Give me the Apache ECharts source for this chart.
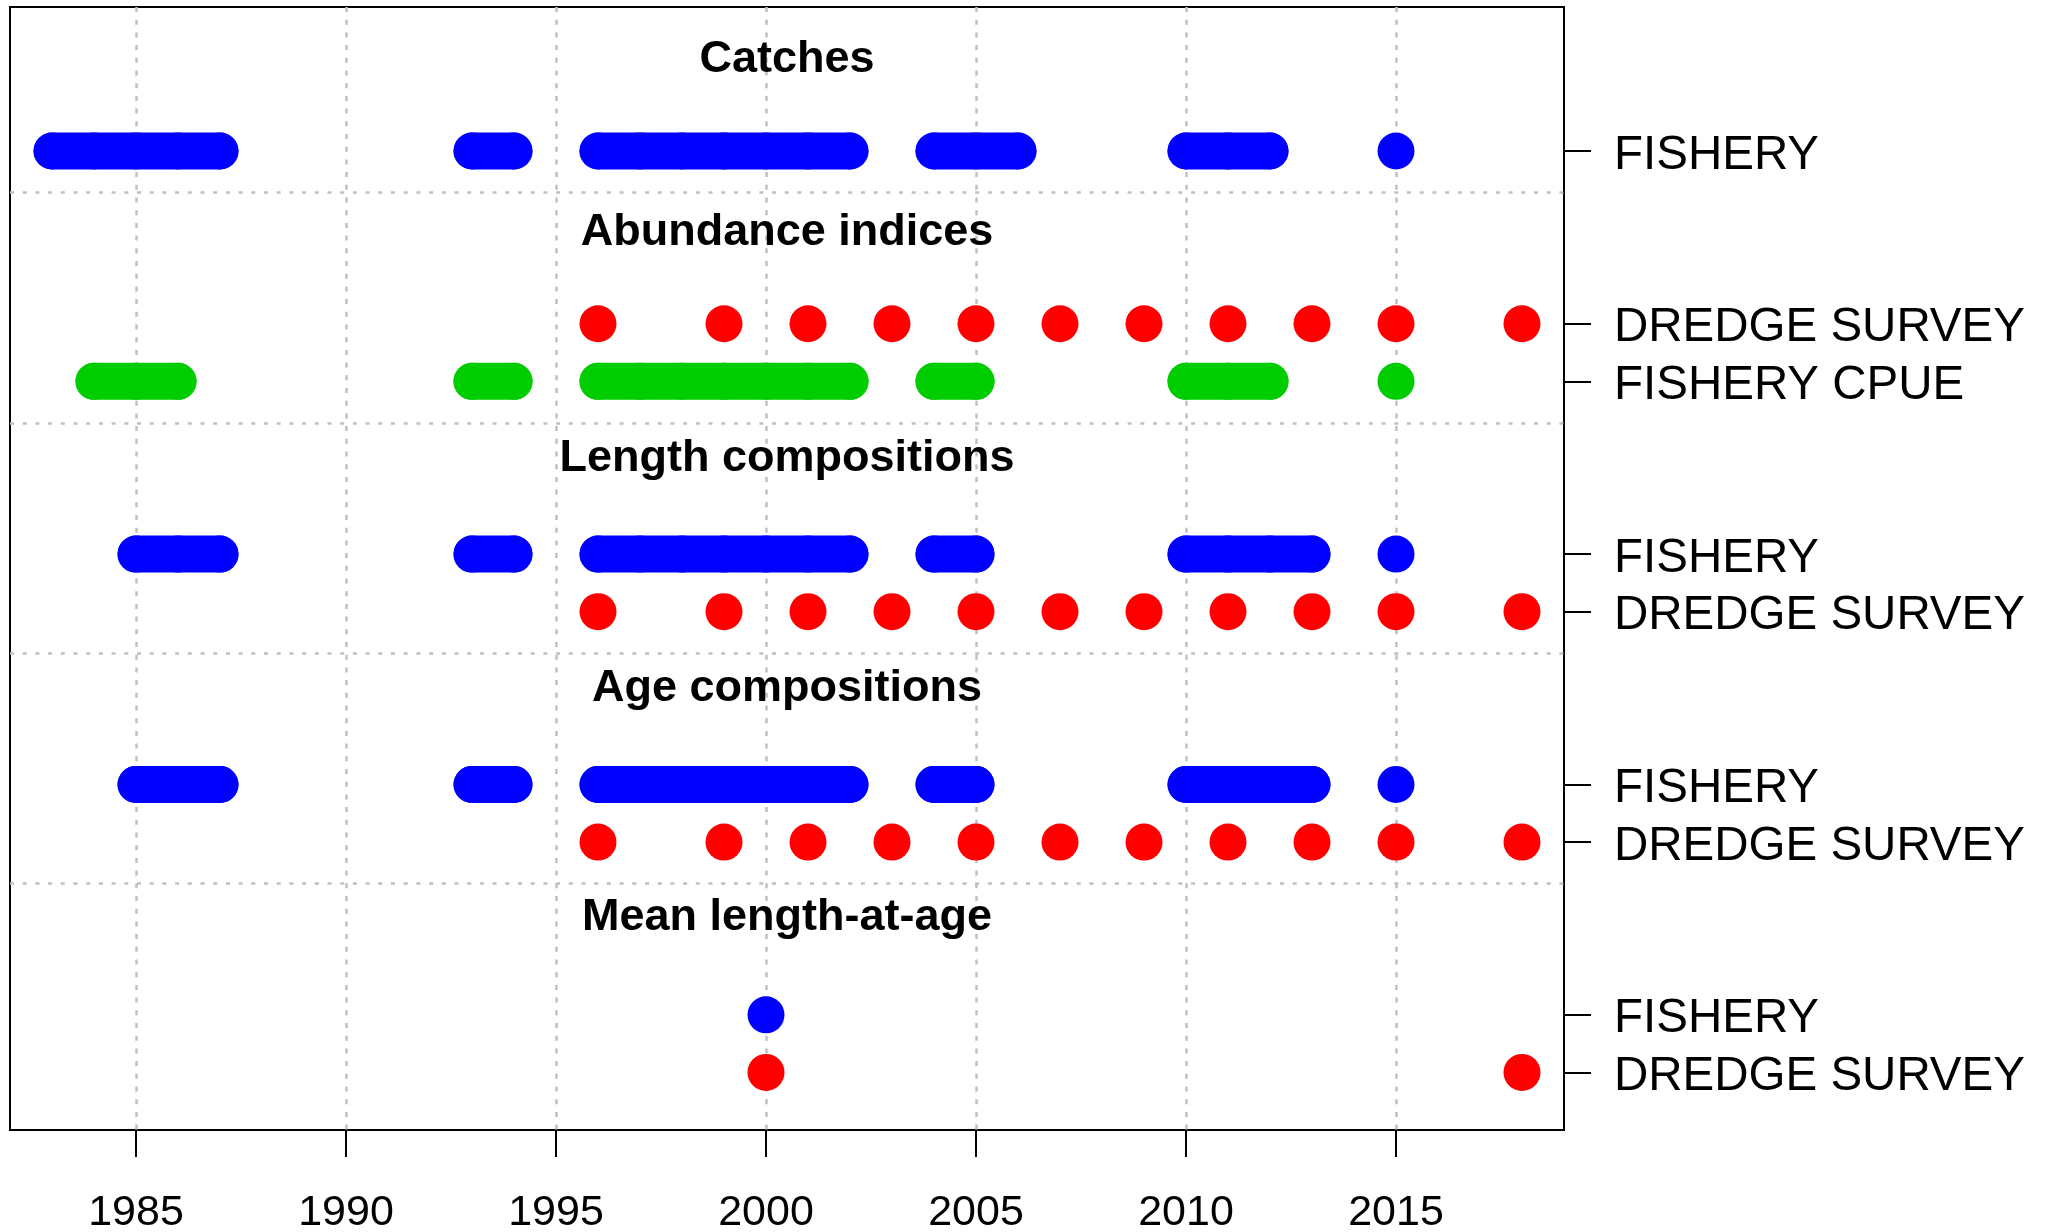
<!DOCTYPE html>
<html>
<head>
<meta charset="utf-8">
<title>Data coverage</title>
<script src="https://cdn.jsdelivr.net/npm/echarts@6/dist/echarts.min.js"></script>
<style>
  html, body { margin: 0; padding: 0; background: #fff; }
  #chart { width: 2062px; height: 1232px; }
</style>
</head>
<body>
<div id="chart"></div>
<script>
  // years with data, one list per row
  const catchFishery = [1983, 1984, 1985, 1986, 1987, 1993, 1994, 1996, 1997, 1998, 1999, 2000, 2001, 2002, 2004, 2005, 2006, 2010, 2011, 2012, 2015];
  const abundDredge = [1996, 1999, 2001, 2003, 2005, 2007, 2009, 2011, 2013, 2015, 2018];
  const abundCpue = [1984, 1985, 1986, 1993, 1994, 1996, 1997, 1998, 1999, 2000, 2001, 2002, 2004, 2005, 2010, 2011, 2012, 2015];
  const lenFishery = [1985, 1986, 1987, 1993, 1994, 1996, 1997, 1998, 1999, 2000, 2001, 2002, 2004, 2005, 2010, 2011, 2012, 2013, 2015];
  const lenDredge = [1996, 1999, 2001, 2003, 2005, 2007, 2009, 2011, 2013, 2015, 2018];
  const ageFishery = [1985, 1986, 1987, 1993, 1994, 1996, 1997, 1998, 1999, 2000, 2001, 2002, 2004, 2005, 2010, 2011, 2012, 2013, 2015];
  const ageDredge = [1996, 1999, 2001, 2003, 2005, 2007, 2009, 2011, 2013, 2015, 2018];
  const mlaFishery = [2000];
  const mlaDredge = [2000, 2018];

  const rowNames = ['FISHERY', 'DREDGE SURVEY', 'FISHERY CPUE', 'FISHERY', 'DREDGE SURVEY', 'FISHERY', 'DREDGE SURVEY', 'FISHERY', 'DREDGE SURVEY'];
  const rowYears = [catchFishery, abundDredge, abundCpue, lenFishery, lenDredge, ageFishery, ageDredge, mlaFishery, mlaDredge];
  const sectionNames = ['Catches', 'Abundance indices', 'Length compositions', 'Age compositions', 'Mean length-at-age'];
  const yearTicks = [1985, 1990, 1995, 2000, 2005, 2010, 2015];

  // layout on the y scale (rows, section titles, separators)
  const rowPos = [0, 3, 4, 7, 8, 11, 12, 15, 16];
  const sectionPos = [-1.66, 1.34, 5.27, 9.26, 13.24];
  const dividerPos = [0.72, 4.72, 8.72, 12.72];
  const rowColors = ['#0000FF', '#FF0000', '#00CD00', '#0000FF', '#FF0000', '#0000FF', '#FF0000', '#0000FF', '#FF0000'];

  const font = 'Liberation Sans, Arial, sans-serif';

  // break the line wherever years are not consecutive
  function toLine(years, y) {
    const out = [];
    years.forEach((yr, i) => {
      if (i > 0 && yr - years[i - 1] > 1) out.push([(yr + years[i - 1]) / 2, '-']);
      out.push([yr, y]);
    });
    return out;
  }

  const series = rowYears.map((years, i) => ({
    type: 'line',
    data: toLine(years, rowPos[i]),
    symbol: 'circle',
    symbolSize: 37,
    showSymbol: true,
    connectNulls: false,
    color: rowColors[i],
    itemStyle: { color: rowColors[i], opacity: 1 },
    lineStyle: { color: rowColors[i], width: 37, cap: 'round', join: 'round' },
    emphasis: { disabled: true },
    silent: true,
    z: 3
  }));

  // section titles + dotted separators
  series.push({
    type: 'scatter',
    data: sectionNames.map((n, i) => [2000.5, sectionPos[i], n]),
    symbolSize: 1,
    itemStyle: { color: 'rgba(0,0,0,0)', opacity: 1 },
    label: {
      show: true,
      position: 'inside',
      offset: [0, 4],
      formatter: p => p.data[2],
      fontFamily: font,
      fontWeight: 'bold',
      fontSize: 45,
      color: '#000',
      opacity: 1
    },
    emphasis: { disabled: true },
    silent: true,
    z: 4,
    markLine: {
      silent: true,
      symbol: 'none',
      label: { show: false },
      lineStyle: { color: '#C0C0C0', type: [4, 8.7], width: 2.5 },
      data: dividerPos.map(v => ({ yAxis: v }))
    }
  });

  const myChart = echarts.init(document.getElementById('chart'));
  myChart.setOption({
    animation: false,
    backgroundColor: '#fff',
    grid: {
      left: 10, right: 498, top: 7, bottom: 102,
      show: true, borderColor: '#000', borderWidth: 2,
      containLabel: false, outerBoundsMode: 'none'
    },
    xAxis: {
      type: 'value',
      min: 1982,
      max: 2019,
      axisLine: { show: false, onZero: false },
      axisTick: { show: true, length: 27, customValues: yearTicks, lineStyle: { color: '#000', width: 2 } },
      axisLabel: {
        customValues: yearTicks, margin: 62, fontSize: 43, fontFamily: font, color: '#000',
        formatter: v => String(v)
      },
      splitLine: { show: true, lineStyle: { color: '#C0C0C0', type: [5, 7.7], width: 2.5 } }
    },
    yAxis: {
      type: 'value',
      position: 'right',
      inverse: true,
      min: -2.5,
      max: 17,
      axisLine: { show: false, onZero: false },
      splitLine: { show: false },
      axisTick: { show: true, length: 27, customValues: rowPos, lineStyle: { color: '#000', width: 2 } },
      axisLabel: {
        customValues: rowPos,
        margin: 50,
        formatter: v => '{n|' + rowNames[rowPos.indexOf(v)] + '}',
        rich: {
          n: { fontSize: 47.5, fontFamily: font, color: '#000', padding: [9, 0, 0, 0] }
        }
      }
    },
    series: series
  });
</script>
</body>
</html>
